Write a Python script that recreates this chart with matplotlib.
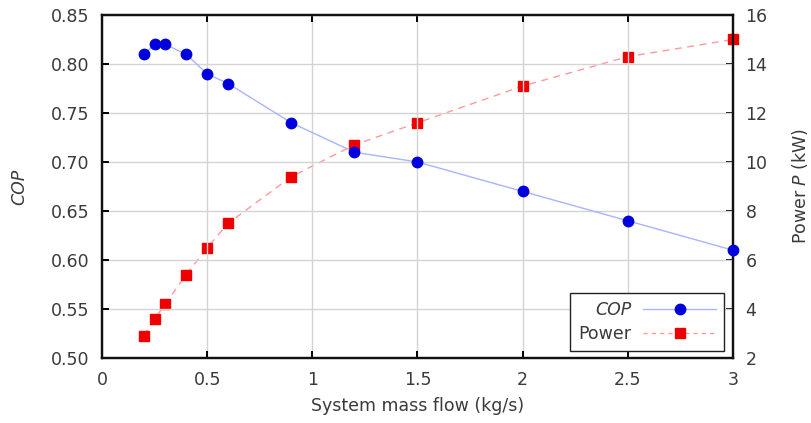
import matplotlib
matplotlib.use("Agg")
import matplotlib.pyplot as plt
from matplotlib.lines import Line2D

plt.rcParams["font.family"] = ["DejaVu Sans"]
plt.rcParams["mathtext.fontset"] = "dejavusans"

# Data
mass_flow = [0.2, 0.25, 0.3, 0.4, 0.5, 0.6, 0.9, 1.2, 1.5, 2.0, 2.5, 3.0]
cop = [0.81, 0.82, 0.82, 0.81, 0.79, 0.78, 0.74, 0.71, 0.70, 0.67, 0.64, 0.61]
power = [2.9, 3.6, 4.2, 5.4, 6.5, 7.5, 9.4, 10.7, 11.6, 13.1, 14.3, 15.0]

x_ticks = [0, 0.5, 1, 1.5, 2, 2.5, 3]
x_tick_labels = ["0", "0.5", "1", "1.5", "2", "2.5", "3"]
cop_ticks = [0.50, 0.55, 0.60, 0.65, 0.70, 0.75, 0.80, 0.85]
power_ticks = [2, 4, 6, 8, 10, 12, 14, 16]

text_color = "#3a3a3a"
fs = 12.5

fig = plt.figure(figsize=(8.12, 4.23), dpi=100)
ax = fig.add_axes([102 / 812, (423 - 358) / 423, 631 / 812, 343 / 423])
ax2 = ax.twinx()

cop_color = "#0000dd"
cop_line = "#a8b4ff"
pow_color = "#ee0000"
pow_line = "#ff9a9a"

ax.plot(mass_flow, cop, "-", color=cop_line, lw=1.0, zorder=2)
ax.plot(mass_flow, cop, "o", color=cop_color, ms=7.5, mec=cop_color,
        zorder=3, clip_on=False)
ax2.plot(mass_flow, power, "--", color=pow_line, lw=1.0, dashes=(5, 4),
         zorder=2)
ax2.plot(mass_flow, power, "s", color=pow_color, ms=7.2, mec=pow_color,
         zorder=3, clip_on=False)

ax.set_xlim(0, 3)
ax.set_ylim(0.50, 0.85)
ax2.set_ylim(2, 16)
ax.set_xticks(x_ticks)
ax.set_xticklabels(x_tick_labels)
ax.set_yticks(cop_ticks)
ax.set_yticklabels([f"{v:.2f}" for v in cop_ticks])
ax2.set_yticks(power_ticks)
ax2.set_yticklabels([str(v) for v in power_ticks])

ax.grid(True, color="#d4d4d4", lw=1.0)
ax.set_axisbelow(True)

for a in (ax, ax2):
    for s in a.spines.values():
        s.set_linewidth(1.6)
        s.set_color("#111111")

ax.tick_params(axis="x", direction="in", length=5, width=1.4, top=True,
               labelsize=fs, labelcolor=text_color, pad=9)
ax.tick_params(axis="y", direction="in", length=5, width=1.4, right=False,
               labelsize=fs, labelcolor=text_color, pad=9)
ax2.tick_params(axis="y", direction="in", length=5, width=1.4,
                labelsize=fs, labelcolor=text_color, pad=9)

ax.set_xlabel("System mass flow (kg/s)", fontsize=fs, color=text_color,
              labelpad=6)
ax.set_ylabel("COP", fontsize=fs, color=text_color, style="italic",
              labelpad=16)
ax2.set_ylabel("Power $P$ (kW)", fontsize=fs, color=text_color, labelpad=16)

# legend samples: line with the marker centred on it
handles = [
    Line2D([], [], color=cop_line, lw=1.0, marker="o", ms=7.5,
           mfc=cop_color, mec=cop_color),
    Line2D([], [], color=pow_line, lw=1.0, ls="--", dashes=(3, 3),
           marker="s", ms=7.2, mfc=pow_color, mec=pow_color),
]
leg = ax.legend(handles, ["COP", "Power"], loc="lower right",
                bbox_to_anchor=(622 / 631, 7 / 343), numpoints=1,
                markerfirst=False, frameon=True, fancybox=False,
                fontsize=fs, handlelength=4.2, borderpad=0.45,
                labelspacing=0.35, handletextpad=0.7, borderaxespad=0.0)
leg.get_frame().set_edgecolor("#222222")
leg.get_frame().set_linewidth(1.0)
leg.get_frame().set_alpha(1)
for t in leg.get_texts():
    t.set_color(text_color)
leg.get_texts()[0].set_style("italic")
leg.set_zorder(5)
ax.set_zorder(ax2.get_zorder() + 1)
ax.patch.set_visible(False)

fig.savefig("out.png", dpi=100)
